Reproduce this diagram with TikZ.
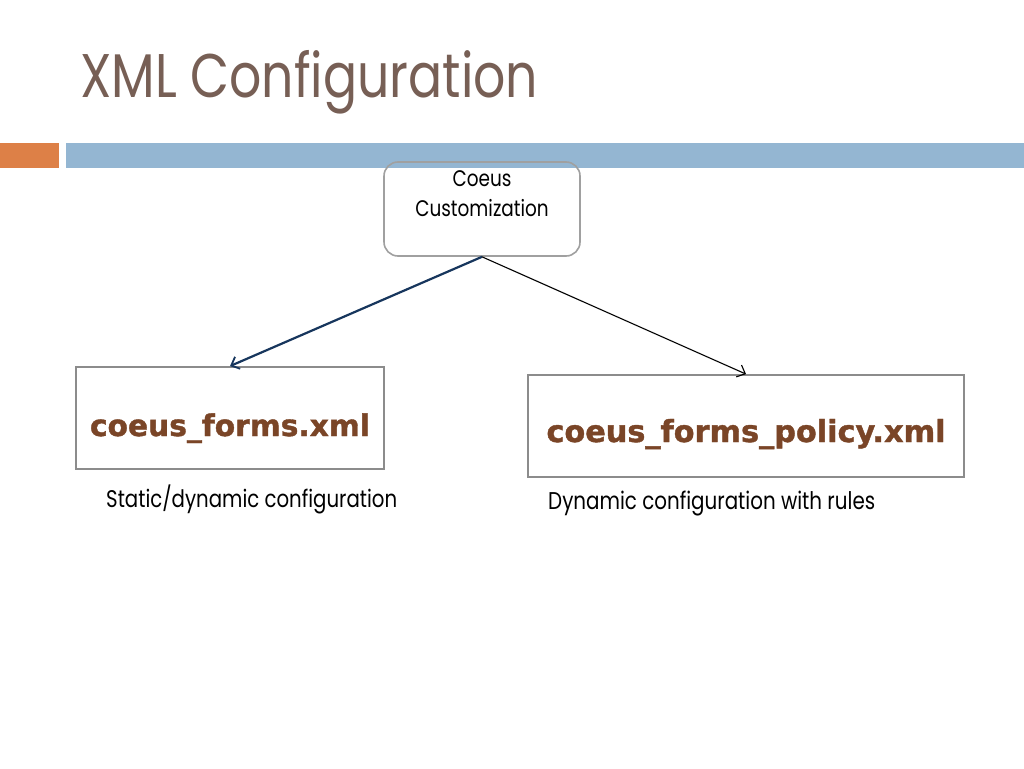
\documentclass[tikz,border=0pt]{standalone}
\usepackage{fontspec}
\usetikzlibrary{arrows.meta}
\newfontfamily\twfont[FakeStretch=0.82]{Poppins}
\newfontfamily\vbfont[FakeBold=1.3]{DejaVu Sans Bold}
\definecolor{titlec}{HTML}{775F55}
\definecolor{orangec}{HTML}{DD8047}
\definecolor{bluec}{HTML}{94B6D2}
\definecolor{brownc}{HTML}{7A4527}
\definecolor{navyc}{HTML}{17365D}
\definecolor{boxgray}{HTML}{8C8C8C}
\definecolor{cboxgray}{HTML}{A0A0A0}
\tikzset{
  titletext/.style={anchor=base west, inner sep=0pt, text=titlec, font=\twfont\fontsize{58}{60}\selectfont},
  cbox/.style={draw=cboxgray, line width=1.6pt, rounded corners=14pt, minimum width=196pt, minimum height=94pt, align=center, inner sep=0pt, font=\twfont\fontsize{22.5}{30}\selectfont},
  filebox/.style={draw=boxgray, line width=1.8pt, inner sep=0pt},
  filetext/.style={anchor=base, inner sep=0pt, text=brownc, font=\vbfont},
  labeltext/.style={anchor=base west, inner sep=0pt, font=\twfont\fontsize{21}{24}\selectfont},
  bluearrow/.style={draw=navyc, line width=2.2pt, -{Straight Barb[length=7pt,width=13pt,line width=1.8pt]}},
  blackarrow/.style={draw=black, line width=1.1pt, -{Straight Barb[length=7pt,width=13pt,line width=1.1pt]}}
}
\begin{document}
\begin{tikzpicture}[x=1pt,y=-1pt]
\useasboundingbox[fill=white] (0,0) rectangle (1024,768);
% header bars
\fill[orangec] (0,143) rectangle (59,168);
\fill[bluec] (66,143) rectangle (1024,168);
% title
\node[titletext] (title) at (80,97) {\resizebox{458pt}{!}{XML Configuration}};
% top box
\node[cbox] (coeus) at (482,209) {Coeus\\Customization\\\mbox{}};
% file boxes
\node[filebox, minimum width=308pt, minimum height=102pt] (left) at (230,418) {};
\node[filebox, minimum width=436pt, minimum height=102pt] (right) at (746,426) {};
\node[filetext] (leftt) at (230,436) {\resizebox{280pt}{!}{coeus\_forms.xml}};
\node[filetext] (rightt) at (746,442) {\resizebox{399pt}{!}{coeus\_forms\_policy.xml}};
% labels
\node[labeltext] (leftl) at (106,507) {\resizebox{291pt}{!}{Static/dynamic configuration}};
\node[labeltext] (rightl) at (548,509) {\resizebox{327pt}{!}{Dynamic configuration with rules}};
% arrows
\draw[bluearrow] (coeus.south) -- (left.north);
\draw[blackarrow] (coeus.south) -- (right.north);
\end{tikzpicture}
\end{document}
